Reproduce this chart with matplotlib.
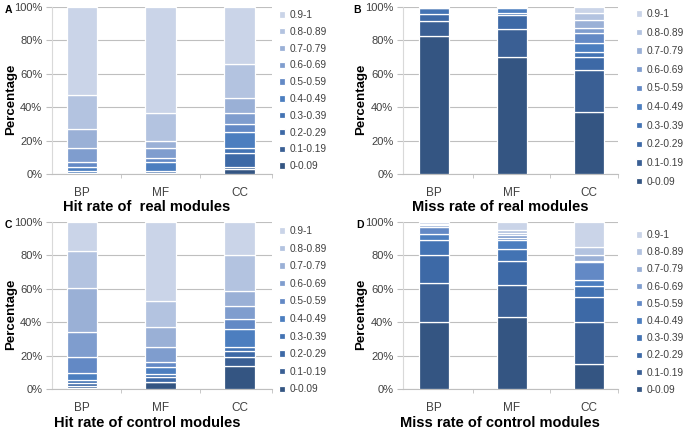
import matplotlib
matplotlib.use("Agg")
import matplotlib.pyplot as plt
import numpy as np

plt.rcParams["font.family"] = ["Liberation Sans", "DejaVu Sans"]

categories = ["BP", "MF", "CC"]
bins = ["0-0.09", "0.1-0.19", "0.2-0.29", "0.3-0.39", "0.4-0.49",
        "0.5-0.59", "0.6-0.69", "0.7-0.79", "0.8-0.89", "0.9-1"]
colors = ["#345582", "#3A5F94", "#3D69A6", "#4373B3", "#4C7EBF",
          "#6389C5", "#7F9DCE", "#9AB0D6", "#B3C3E0", "#CAD4E8"]

# percentages per bin (bottom to top), one list per category
hit_real_BP = [0.0, 0.2, 0.5, 1.0, 2.5, 2.8, 8.4, 11.6, 20.5, 52.5]
hit_real_MF = [0.0, 0.5, 1.0, 0.5, 5.0, 2.3, 6.0, 4.3, 16.7, 63.7]
hit_real_CC = [2.8, 1.6, 8.0, 3.0, 9.6, 4.9, 6.4, 9.4, 20.2, 34.1]

miss_real_BP = [82.4, 9.4, 4.2, 3.2, 0.5, 0.3, 0.0, 0.0, 0.0, 0.0]
miss_real_MF = [69.8, 17.1, 8.3, 1.0, 3.2, 0.5, 0.1, 0.0, 0.0, 0.0]
miss_real_CC = [37.4, 24.6, 8.0, 3.0, 5.4, 6.0, 3.0, 4.6, 4.4, 3.6]

hit_ctrl_BP = [0.6, 1.0, 2.0, 1.6, 4.4, 9.4, 15.0, 26.4, 22.0, 17.6]
hit_ctrl_MF = [4.0, 0.4, 2.6, 2.0, 4.0, 3.0, 9.4, 11.6, 15.4, 47.6]
hit_ctrl_CC = [14.0, 5.0, 4.0, 2.4, 10.6, 6.0, 8.0, 8.8, 21.6, 19.6]

miss_ctrl_BP = [40.0, 23.2, 16.8, 9.0, 4.0, 4.0, 1.0, 0.5, 0.3, 1.2]
miss_ctrl_MF = [43.0, 19.0, 14.5, 7.5, 5.0, 1.5, 1.5, 1.5, 1.5, 5.0]
miss_ctrl_CC = [14.8, 25.2, 15.0, 6.4, 3.6, 10.9, 0.5, 3.6, 5.0, 15.0]

titles = ["Hit rate of  real modules", "Miss rate of real modules",
          "Hit rate of control modules", "Miss rate of control modules"]
letters = ["A", "B", "C", "D"]

panels = [
    [hit_real_BP, hit_real_MF, hit_real_CC],
    [miss_real_BP, miss_real_MF, miss_real_CC],
    [hit_ctrl_BP, hit_ctrl_MF, hit_ctrl_CC],
    [miss_ctrl_BP, miss_ctrl_MF, miss_ctrl_CC],
]

W, H = 685, 433
fig = plt.figure(figsize=(W / 100, H / 100), dpi=100)

# axes rectangles in pixels: left, top, right, bottom
rects = [(52, 7, 272, 174), (403, 7, 618, 174),
         (52, 222, 272, 389), (403, 222, 618, 389)]
xlims = [(-0.38, 2.41), (-0.40, 2.37), (-0.38, 2.41), (-0.40, 2.37)]
letter_pos = [(5, 10), (353, 10), (5, 225), (356, 225)]
ylabel_right = [17, 367, 17, 367]
legend_pos = [(279, 10), (636, 9), (279, 226), (636, 230)]
legend_spacing = [0.67, 0.85, 0.75, 0.71]
title_x = [147, 500, 147, 500]
title_y = [207, 207, 423, 423]

x = np.arange(len(categories))
gray_txt = "#404040"

for i, data in enumerate(panels):
    l, t, r, b = rects[i]
    ax = fig.add_axes([l / W, 1 - b / H, (r - l) / W, (b - t) / H])
    arr = np.array(data)  # categories x bins
    bottom = np.zeros(len(categories))
    handles = []
    for k in range(len(bins)):
        h = ax.bar(x, arr[:, k], bottom=bottom, width=0.39, color=colors[k],
                   edgecolor="white", linewidth=0.9, label=bins[k], zorder=3)
        handles.append(h)
        bottom += arr[:, k]
    ax.set_ylim(0, 100)
    ax.set_xlim(*xlims[i])
    ax.set_yticks(np.arange(0, 101, 20))
    ax.set_yticklabels([f"{v}%" for v in range(0, 101, 20)])
    ax.set_xticks(x)
    ax.set_xticklabels(categories)
    ax.set_xticks([0.5, 1.5, xlims[i][1]], minor=True)
    ax.tick_params(axis="x", which="major", length=0, pad=9.5, labelsize=8.5,
                   colors=gray_txt)
    ax.tick_params(axis="x", which="minor", length=3, color="#BFBFBF",
                   direction="out")
    ax.tick_params(axis="y", length=4, color="#BFBFBF", labelsize=8,
                   colors=gray_txt, pad=3)
    ax.yaxis.grid(True, color="#BFBFBF", linewidth=0.8, zorder=0)
    ax.set_axisbelow(True)
    for s in ["top", "right"]:
        ax.spines[s].set_visible(False)
    ax.spines["left"].set_color("#D9D9D9")
    ax.spines["bottom"].set_color("#BFBFBF")
    ax.set_ylabel("Percentage", fontsize=9.5, fontweight="bold")
    ax.yaxis.set_label_coords(-(l - ylabel_right[i]) / (r - l),
                              0.5 - 9.0 / (b - t))

    fig.text(title_x[i] / W, 1 - title_y[i] / H, titles[i], ha="center",
             va="center", fontsize=10.5, fontweight="bold")
    fig.text(letter_pos[i][0] / W, 1 - letter_pos[i][1] / H, letters[i],
             ha="left", va="center", fontsize=7.5, fontweight="bold")

    lx, ly = legend_pos[i]
    fig.legend(handles[::-1], bins[::-1], loc="upper left",
               bbox_to_anchor=(lx / W, 1 - ly / H), frameon=False,
               fontsize=7.3, handlelength=0.6, handleheight=0.6,
               handletextpad=0.4, labelspacing=legend_spacing[i],
               borderaxespad=0, borderpad=0, labelcolor=gray_txt)

fig.savefig("out.png", dpi=100)
